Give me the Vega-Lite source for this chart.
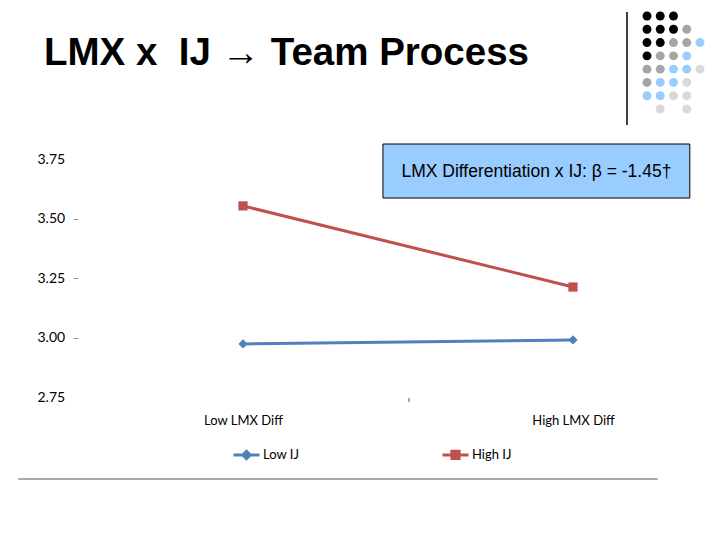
{
  "$schema": "https://vega.github.io/schema/vega-lite/v6.json",
  "width": 642,
  "height": 238,
  "autosize": "none",
  "padding": {"left": 78, "top": 159, "right": 0, "bottom": 143},
  "background": "white",
  "config": {"view": {"stroke": null}},
  "datasets": {
    "series": [
      {"lmx": "Low LMX Diff", "ij": "Low IJ", "value": 2.973},
      {"lmx": "High LMX Diff", "ij": "Low IJ", "value": 2.99},
      {"lmx": "Low LMX Diff", "ij": "High IJ", "value": 3.553},
      {"lmx": "High LMX Diff", "ij": "High IJ", "value": 3.212}
    ],
    "box": [{"fx": 0.475, "fx2": 0.953, "fy": 0.836, "fy2": 1.063, "fxc": 0.714, "fyc": 0.945, "label": "LMX Differentiation x IJ: β = -1.45†"}],
    "title": [{"fx": -0.053, "fy": 1.395, "label": "LMX x\u00a0 IJ \u2192 Team Process"}],
    "lines": [
      {"part": "bottom rule", "fx": -0.093, "fx2": 0.903, "fy": -0.345, "fy2": -0.345},
      {"part": "category tick", "fx": 0.5156, "fx2": 0.5156, "fy": -0.004, "fy2": -0.021}
    ],
    "dots": [
      {"col": 0, "row": 0, "tone": "black"}, {"col": 1, "row": 0, "tone": "black"}, {"col": 2, "row": 0, "tone": "black"},
      {"col": 0, "row": 1, "tone": "black"}, {"col": 1, "row": 1, "tone": "black"}, {"col": 2, "row": 1, "tone": "black"}, {"col": 3, "row": 1, "tone": "gray"},
      {"col": 0, "row": 2, "tone": "black"}, {"col": 1, "row": 2, "tone": "black"}, {"col": 2, "row": 2, "tone": "gray"}, {"col": 3, "row": 2, "tone": "gray"}, {"col": 4, "row": 2, "tone": "blue"},
      {"col": 0, "row": 3, "tone": "black"}, {"col": 1, "row": 3, "tone": "gray"}, {"col": 2, "row": 3, "tone": "gray"}, {"col": 3, "row": 3, "tone": "blue"},
      {"col": 0, "row": 4, "tone": "gray"}, {"col": 1, "row": 4, "tone": "gray"}, {"col": 2, "row": 4, "tone": "blue"}, {"col": 3, "row": 4, "tone": "blue"}, {"col": 4, "row": 4, "tone": "light"},
      {"col": 0, "row": 5, "tone": "gray"}, {"col": 1, "row": 5, "tone": "blue"}, {"col": 2, "row": 5, "tone": "blue"}, {"col": 3, "row": 5, "tone": "light"},
      {"col": 0, "row": 6, "tone": "blue"}, {"col": 1, "row": 6, "tone": "blue"}, {"col": 2, "row": 6, "tone": "light"}, {"col": 3, "row": 6, "tone": "light"},
      {"col": 1, "row": 7, "tone": "light"}, {"col": 3, "row": 7, "tone": "light"}
    ],
    "divider": [{"col": -1.51, "row": -0.3, "row2": 8.2}]
  },
  "layer": [
    {
      "data": {"name": "series"},
      "encoding": {
        "x": {
          "field": "lmx", "type": "nominal",
          "scale": {"type": "point", "domain": ["Low LMX Diff", "High LMX Diff"], "range": [165, 495], "padding": 0},
          "axis": {"title": null, "ticks": false, "domain": false, "labelAngle": 0, "labelFont": "Lato", "labelFontSize": 13, "labelColor": "#000000", "labelPadding": 17}
        },
        "y": {
          "field": "value", "type": "quantitative",
          "scale": {"domain": [2.75, 3.75], "nice": false, "zero": false},
          "axis": {"title": null, "values": [2.75, 3.0, 3.25, 3.5, 3.75], "format": ".2f", "domain": false, "grid": false, "labelAlign": "left", "labelPadding": 36, "tickSize": 5, "tickColor": "#999999", "tickOpacity": {"expr": "datum.value == 2.75 || datum.value == 3.75 ? 0 : 1"}, "labelFont": "Lato", "labelFontSize": 14, "labelColor": "#000000"}
        },
        "color": {
          "field": "ij", "type": "nominal",
          "scale": {"domain": ["Low IJ", "High IJ"], "range": ["#4F81BD", "#C0504D"]},
          "legend": {
            "orient": "none", "legendX": 154, "legendY": 281, "direction": "horizontal", "title": null,
            "labelFont": "Lato", "labelFontSize": 13, "labelColor": "#000000", "labelOffset": 2,
            "symbolSize": 676, "symbolStrokeWidth": 3, "columnPadding": 136,
            "encode": {
              "symbols": {
                "update": {
                  "shape": {"signal": "datum.value === 'Low IJ' ? 'M-1,0H1M0,-0.28L0.28,0L0,0.28L-0.28,0Z' : 'M-1,0H1M-0.28,-0.28H0.28V0.28H-0.28Z'"},
                  "fill": {"signal": "datum.value === 'Low IJ' ? '#4F81BD' : '#C0504D'"},
                  "stroke": {"signal": "datum.value === 'Low IJ' ? '#4F81BD' : '#C0504D'"},
                  "opacity": {"value": 1}
                }
              }
            }
          }
        }
      },
      "layer": [
        {"mark": {"type": "line", "strokeWidth": 3}},
        {
          "mark": {"type": "point", "filled": true, "opacity": 1, "size": 85},
          "encoding": {
            "shape": {"field": "ij", "type": "nominal", "scale": {"domain": ["Low IJ", "High IJ"], "range": ["diamond", "square"]}, "legend": null}
          }
        }
      ]
    },
    {
      "layer": [
        {
          "data": {"name": "box"},
          "mark": {"type": "rect", "fill": "#99CCFF", "stroke": "#000000", "strokeWidth": 1},
          "encoding": {
            "x": {"field": "fx", "type": "quantitative", "scale": {"domain": [0, 1], "nice": false, "zero": false}, "axis": null},
            "x2": {"field": "fx2"},
            "y": {"field": "fy", "type": "quantitative", "scale": {"domain": [0, 1], "nice": false, "zero": false}, "axis": null},
            "y2": {"field": "fy2"}
          }
        },
        {
          "data": {"name": "box"},
          "mark": {"type": "text", "font": "Liberation Sans", "fontSize": 17.5, "color": "#000000", "align": "center", "baseline": "middle"},
          "encoding": {
            "x": {"field": "fxc", "type": "quantitative", "axis": null},
            "y": {"field": "fyc", "type": "quantitative", "axis": null},
            "text": {"field": "label"}
          }
        },
        {
          "data": {"name": "title"},
          "mark": {"type": "text", "font": "Liberation Sans", "fontSize": 38.5, "fontWeight": "bold", "color": "#000000", "align": "left", "baseline": "alphabetic"},
          "encoding": {
            "x": {"field": "fx", "type": "quantitative", "axis": null},
            "y": {"field": "fy", "type": "quantitative", "axis": null},
            "text": {"field": "label"}
          }
        },
        {
          "data": {"name": "lines"},
          "mark": {"type": "rule", "color": "#8C8C8C", "strokeWidth": 1.5},
          "encoding": {
            "x": {"field": "fx", "type": "quantitative", "axis": null},
            "x2": {"field": "fx2"},
            "y": {"field": "fy", "type": "quantitative", "axis": null},
            "y2": {"field": "fy2"}
          }
        }
      ]
    },
    {
      "layer": [
        {
          "data": {"name": "dots"},
          "mark": {"type": "circle", "size": 80, "opacity": 1},
          "encoding": {
            "x": {"field": "col", "type": "quantitative", "scale": {"domain": [0, 4], "range": [569, 622], "nice": false, "zero": false}, "axis": null},
            "y": {"field": "row", "type": "quantitative", "scale": {"domain": [0, 7], "range": [-143, -50], "nice": false, "zero": false}, "axis": null},
            "color": {"field": "tone", "type": "nominal", "scale": {"domain": ["black", "gray", "blue", "light"], "range": ["#000000", "#A6A6A6", "#99CCFF", "#D9D9D9"]}, "legend": null}
          }
        },
        {
          "data": {"name": "divider"},
          "mark": {"type": "rule", "color": "#000000", "strokeWidth": 1.5},
          "encoding": {
            "x": {"field": "col", "type": "quantitative", "axis": null},
            "y": {"field": "row", "type": "quantitative", "axis": null},
            "y2": {"field": "row2"}
          }
        }
      ]
    }
  ],
  "resolve": {"scale": {"x": "independent", "y": "independent", "color": "independent"}}
}
